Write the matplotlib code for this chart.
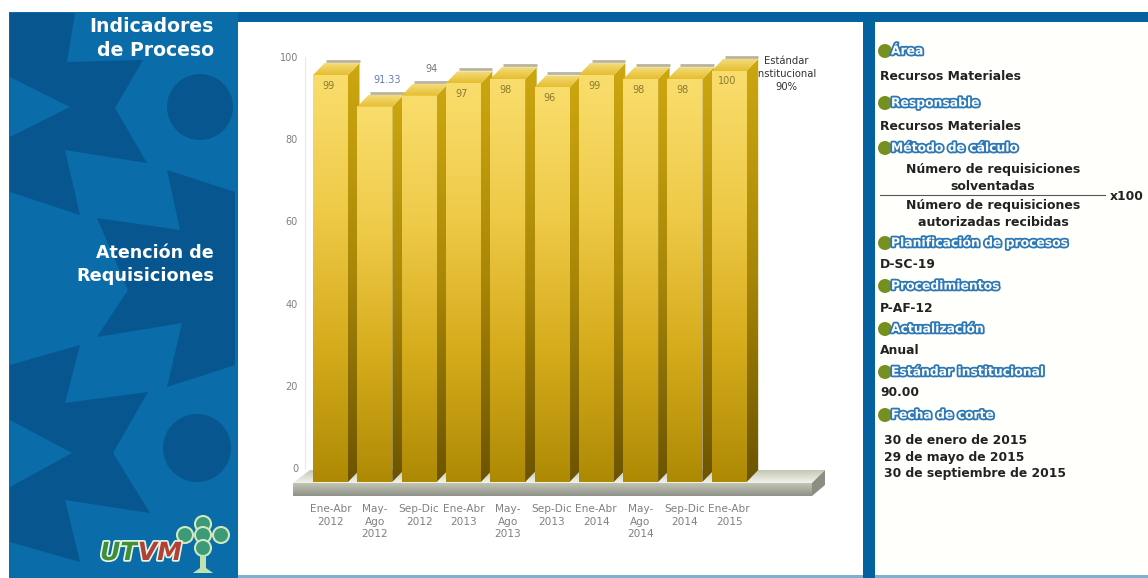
import numpy as np
import matplotlib
matplotlib.use("Agg")
import matplotlib.pyplot as plt
from matplotlib.colors import LinearSegmentedColormap
from matplotlib.patches import Polygon, Circle, Rectangle
import matplotlib.patheffects as pe

# Data
periods = ["Ene-Abr\n2012", "May-\nAgo\n2012", "Sep-Dic\n2012", "Ene-Abr\n2013", "May-\nAgo\n2013",
           "Sep-Dic\n2013", "Ene-Abr\n2014", "May-\nAgo\n2014", "Sep-Dic\n2014", "Ene-Abr\n2015"]
values = [99, 91.33, 94, 97, 98, 96, 99, 98, 98, 100]
value_labels = ["99", "91.33", "94", "97", "98", "96", "99", "98", "98", "100"]
y_ticks = [0, 20, 40, 60, 80, 100]

W, H = 1148, 578
BLUE = "#0a6ca8"
DARK = "#07568f"
STRIPE = "#04619f"

fig = plt.figure(figsize=(W / 100, H / 100), dpi=100, facecolor="white")


def px_axes(left, top, right, bottom):
    return fig.add_axes([left / W, 1 - bottom / H, (right - left) / W, (bottom - top) / H])


# Page layout, in pixels
page = px_axes(0, 0, W, H)
page.set_xlim(0, W)
page.set_ylim(H, 0)
page.axis("off")

page.add_patch(Rectangle((9, 12), W - 9, H - 12, color=BLUE, lw=0))

# Background shapes of the left panel
shapes = [
    [(10, 13), (75, 13), (67, 62), (143, 60), (115, 108), (147, 163), (65, 150), (80, 215),
     (10, 192), (10, 137), (70, 107), (10, 77)],
    [(167, 170), (235, 192), (235, 365), (167, 387), (182, 323), (97, 337), (128, 290),
     (97, 218), (180, 230)],
    [(80, 345), (10, 365), (10, 420), (72, 453), (10, 487), (10, 542), (80, 562), (65, 500),
     (150, 513), (113, 453), (148, 392), (65, 403)],
]
for s in shapes:
    page.add_patch(Polygon(s, color=DARK, lw=0))
page.add_patch(Circle((200, 107), 33, color=DARK, lw=0))
page.add_patch(Circle((197, 448), 34, color=DARK, lw=0))

# Stripes and white panels
page.add_patch(Rectangle((238, 12), W - 238, 10, color=STRIPE, lw=0))
page.add_patch(Rectangle((863, 22), 12, H - 22, color=STRIPE, lw=0))
page.add_patch(Rectangle((238, 22), 625, 553, color="white", lw=0))
page.add_patch(Rectangle((875, 22), W - 875, 553, color="#fffffc", lw=0))
page.add_patch(Rectangle((238, 575), 625, 3, color="#7fb0cf", lw=0))
page.add_patch(Rectangle((875, 575), W - 875, 3, color="#7fb0cf", lw=0))

# Left titles
for txt, y, size in [("Indicadores", 27, 13.6), ("de Proceso", 51, 13.6), ("Atención de", 253, 12.6),
                     ("Requisiciones", 276, 12.8)]:
    page.text(214, y, txt, color="white", fontsize=size, fontweight="bold", ha="right", va="center")

# Logo
logo = page.text(100, 553, "UT", color="#3f8f3a", fontsize=18, fontweight="bold", style="italic",
                 va="center", ha="left")
logo.set_path_effects([pe.withStroke(linewidth=2.5, foreground="#e8f4e0")])
logo = page.text(182, 553, "VM", color="#b04038", fontsize=18, fontweight="bold", style="italic",
                 va="center", ha="right")
logo.set_path_effects([pe.withStroke(linewidth=2.5, foreground="#e8f4e0")])
for cx, cy in [(203, 524), (185, 535), (221, 535), (203, 535), (203, 548)]:
    page.add_patch(Circle((cx, cy), 8, fc="#3d9a78", ec="#cfe8bc", lw=1.5))
page.add_patch(Polygon([(200, 555), (206, 555), (206, 568), (213, 573), (193, 573), (200, 568)],
                       fc="#bfe3b0", lw=0))

# Right column
headings = [("Área", 51), ("Responsable", 103), ("Método de cálculo", 148), ("Planificación de procesos", 243),
            ("Procedimientos", 286), ("Actualización", 329), ("Estándar institucional", 372), ("Fecha de corte", 415)]
for txt, y in headings:
    page.add_patch(Circle((885, y), 7, color="#76901f", lw=0))
    t = page.text(891, y, txt, color="white", fontsize=8.9, fontweight="bold", va="center")
    t.set_path_effects([pe.withStroke(linewidth=2.6, foreground="#2d78b5")])

body = [("Recursos Materiales", 880, 77), ("Recursos Materiales", 880, 127), ("D-SC-19", 880, 265),
        ("P-AF-12", 880, 308), ("Anual", 880, 350), ("90.00", 880, 393), ("30 de enero de 2015", 884, 440),
        ("29 de mayo de 2015", 884, 457), ("30 de septiembre de 2015", 884, 473), ("x100", 1110, 196)]
for txt, x, y in body:
    page.text(x, y, txt, color="#222222", fontsize=8.9, fontweight="bold", va="center")

for txt, y in [("Número de requisiciones", 170), ("solventadas", 186), ("Número de requisiciones", 205),
               ("autorizadas recibidas", 222)]:
    page.text(993, y, txt, color="#222222", fontsize=9, fontweight="bold", va="center", ha="center")
page.plot([880, 1105], [195, 195], color="#555555", lw=0.8)

# Standard note, behind the last bar
page.text(786, 74, "Estándar\nInstitucional\n90%", color="#333333", fontsize=7.2, ha="center", va="center",
          linespacing=1.35)


def gradient(ax, extent, colors, clip=None, z=2):
    cmap = LinearSegmentedColormap.from_list("g", colors)
    g = np.linspace(0, 1, 128).reshape(-1, 1)
    im = ax.imshow(g, cmap=cmap, vmin=0, vmax=1, extent=extent, origin="upper", aspect="auto",
                   zorder=z, interpolation="bilinear")
    if clip is not None:
        poly = Polygon(clip, transform=ax.transData, fc="none", ec="none")
        ax.add_patch(poly)
        im.set_clip_path(poly)
    return im


# Floor of the chart
floor_top = [(293, 483), (310, 470), (825, 470), (812, 483)]
floor_side = [(812, 483), (825, 470), (825, 485), (812, 496)]
gradient(page, (293, 825, 483, 470), ["#c5c8b5", "#f2f3ec"], clip=floor_top)
gradient(page, (293, 812, 496, 483), ["#c3c6b4", "#8d9088"])
page.add_patch(Polygon(floor_side, color="#8b8e80", lw=0, zorder=2))
page.set_xlim(0, W)
page.set_ylim(H, 0)

# Value scale sits on the back wall
wall = px_axes(305, 57, 760, 468)
wall.patch.set_alpha(0)
wall.set_ylim(0, 100)
wall.set_yticks(y_ticks)
wall.set_xticks([])
wall.tick_params(axis="y", length=0, pad=5, labelsize=7, labelcolor="#808080")
for name, spine in wall.spines.items():
    spine.set_visible(name == "left")
    spine.set_color("#e6eaf0")

# Bars, front face bottom at pixel 482 and 4.11 px per unit
PX_Y = 4.11
PX_X = 44.3
ax = px_axes(292, 30, 826, 496)
ax.patch.set_alpha(0)
x_left = (292 - 330.5) / PX_X
x_right = (826 - 330.5) / PX_X
y_bottom = -(496 - 482) / PX_Y
y_top = (482 - 30) / PX_Y

width = 35 / PX_X
dx = 11.5 / PX_X
dy = 12 / PX_Y

x = np.arange(len(values))
for i, v in enumerate(values):
    x0 = x[i] - width / 2
    x1 = x[i] + width / 2
    z = 3 + i * 0.01
    # grey edge behind the top
    ax.plot([x0 + dx + 0.03, x1 + dx], [v + dy + 0.5, v + dy + 0.5], color="#b8b4a0", lw=2, zorder=z - 0.005,
            solid_capstyle="butt")
    gradient(ax, (x0, x1, 0, v), ["#f9dd6c", "#efca48", "#d6ac1c", "#ae8a04"], z=z)
    side = [(x1, v), (x1 + dx, v + dy), (x1 + dx, dy), (x1, 0)]
    gradient(ax, (x1, x1 + dx, 0, v + dy), ["#cda710", "#a98707", "#6c5400"], clip=side, z=z)
    top = [(x0, v), (x0 + dx, v + dy), (x1 + dx, v + dy), (x1, v)]
    gradient(ax, (x0, x1 + dx, v, v + dy), ["#f3dc7c", "#e6bd2e"], clip=top, z=z)
    if v < 95:
        ax.annotate(value_labels[i], (x[i] + 0.28, v), xytext=(0, 19), textcoords="offset points", ha="center",
                    va="center", fontsize=7, color="#6a7ab0" if i == 1 else "#777777", zorder=5)
    else:
        ax.annotate(value_labels[i], (x[i] - 0.05, v), xytext=(0, -7.5), textcoords="offset points", ha="center",
                    va="center", fontsize=7, color="#8a7a30", zorder=5)

ax.set_xlim(x_left, x_right)
ax.set_ylim(y_bottom, y_top)
ax.set_yticks([])
ax.set_xticks(x)
ax.set_xticklabels(periods, fontsize=7.6, color="#808080", linespacing=1.3)
ax.tick_params(axis="x", length=0, pad=6)
for spine in ax.spines.values():
    spine.set_visible(False)

fig.savefig("out.png", dpi=100, facecolor="white")
